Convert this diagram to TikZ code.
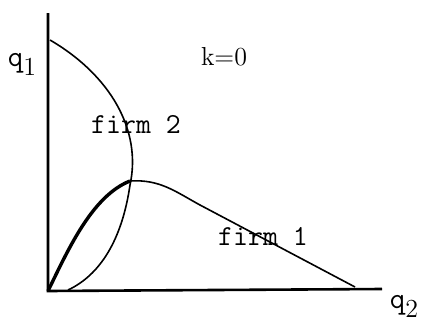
\documentclass[tikz,border=0pt]{standalone}
\usetikzlibrary{positioning}
\newcommand{\subnum}[1]{\raisebox{-0.7ex}{\fontsize{13}{15}\selectfont #1}}
\begin{document}
\begin{tikzpicture}[x=0.5pt,y=-0.5pt,
                axis/.style={draw, line width=1.3pt},
                curve/.style={draw, line width=0.8pt},
                lbl/.style={font=\ttfamily\fontsize{14.5}{16}\selectfont},
                axlbl/.style={font=\fontsize{15}{17}\selectfont}
            ]
            \useasboundingbox (0,0) rectangle (423,322);

            % Axes
            \coordinate (o) at (48,291);
            \coordinate (ytop) at (48,13);
            \coordinate (xend) at (382,289);
            \draw[axis] (ytop) -- (o) -- (xend);

            % Axis labels
            \node[axlbl] (qone) at (22,64) {\texttt{q}\subnum{1}};
            \node[axlbl] (qtwo) at (404,306) {\texttt{q}\subnum{2}};
            \node[axlbl, font=\fontsize{13}{15}\selectfont] (kval) at (224,57) {k=0};

            % Reaction curves
            \coordinate (top2) at (50,40);
            \coordinate (right2) at (130,185);
            \coordinate (foot2) at (68,290);
            \draw[curve] (top2) .. controls (110,75) and (142,130) .. (right2)
                .. controls (122,240) and (100,275) .. (foot2);

            \coordinate (peak1) at (130,181);
            \coordinate (bend1) at (200,205);
            \coordinate (foot1) at (355,287);
            \draw[line width=1.7pt] (o) .. controls (68,250) and (92,196) .. (peak1);
            \draw[curve] (peak1) .. controls (160,179) and (176,192) .. (bend1) -- (foot1);

            % Curve labels
            \node[lbl] (firmtwo) at (136,124) {firm 2};
            \node[lbl] (firmone) at (263,236) {firm 1};
        \end{tikzpicture}
\end{document}
